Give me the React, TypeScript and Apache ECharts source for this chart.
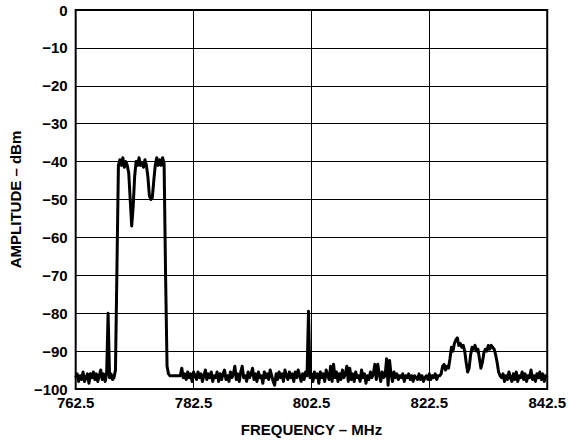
import React, { useEffect, useRef } from "react";
import * as echarts from "echarts";

// Frequency grid of the trace (MHz) — each segment starts at its own frequency, samples every 0.25 MHz
const STEP = 0.25;

// 762.5 … 768.75 MHz: noise floor with a narrow spur at 768 MHz
const noiseLowStart = 762.5;
const noiseLow = [
  -97, -96, -98, -96.5, -97.5, -95.5, -98, -97,
  -96, -98.5, -96, -97, -95.5, -97.5, -96, -98,
  -96.5, -95, -97.5, -96, -98, -96, -80, -97,
  -96, -97.5,
];

// 769.0 … 779.0 MHz: wide carrier block with two notches
const channelStart = 769.0;
const channel = [
  -97, -95, -68, -41, -39.5, -41, -39, -41.5,
  -40, -41, -43, -50, -57, -52, -44, -40,
  -41, -39, -41, -40.5, -41.5, -39.5, -41, -44,
  -49, -50, -49.5, -45, -41, -39, -41, -39.5,
  -41, -39, -40.5, -70, -94, -96, -96.5, -96.5,
  -96.5,
];

// 779.25 … 824.25 MHz: noise floor with a spur at 802 MHz
const noiseMidStart = 779.25;
const noiseMid = [
  -96.5, -96.5, -96.5, -96.5, -96.5, -94.5, -97, -96,
  -97.5, -95.5, -97, -96, -98, -95.5, -96.5, -97.5,
  -95.5, -97, -96, -98, -96.5, -95, -97.5, -96,
  -97, -95.5, -98, -96.5, -97, -95.5, -98, -96,
  -97.5, -96, -95, -97.5, -96.5, -98, -95.5, -97,
  -96, -94, -97.5, -96, -98, -95.5, -94, -97,
  -96.5, -98, -95.5, -97, -96, -94.5, -97.5, -96,
  -98, -95.5, -97, -96.5, -98.5, -95.5, -97, -96,
  -97.5, -95, -96.5, -98, -99, -96, -97.5, -95.5,
  -97, -96, -98, -95, -96.5, -97.5, -95.5, -97,
  -96, -98, -95.5, -97, -95, -96.5, -98, -96,
  -97.5, -95.5, -96.5, -79.5, -97, -96, -98, -95.5,
  -97, -96, -98.5, -95.5, -97, -96, -98, -95,
  -96.5, -97.5, -94, -98, -93.5, -97, -95.5, -98,
  -96, -97.5, -95, -97, -96, -94, -98, -94.5,
  -97.5, -96, -98, -95.5, -97, -96.5, -98, -95,
  -97, -96, -98.5, -96.5, -97.5, -95.5, -97, -96,
  -93.5, -97.5, -93.5, -96, -98, -95.5, -97, -96.5,
  -92, -99, -92.5, -96, -98, -95.5, -97, -96,
  -97.5, -96.5, -97, -96, -98, -96.5, -97, -96,
  -97.5, -96.5, -98, -96.5, -97, -97.5, -96, -97.5,
  -96.5, -98, -97, -96.5, -97.5, -96, -97.5, -96.5,
  -97, -96, -97.5, -96.5, -96.5,
];

// 824.5 … 834.5 MHz: weak signal hump
const humpStart = 824.5;
const hump = [
  -96, -94, -93.5, -95, -94, -94.5, -92, -89,
  -90, -88, -87, -86.5, -88.5, -88, -89, -88.5,
  -90, -93, -95.5, -94.5, -91, -89, -89.5, -88.5,
  -90, -89.5, -92, -94.5, -93, -90.5, -89.5, -90,
  -88.5, -89.5, -88.5, -89, -89.5, -91, -93, -95.5,
  -96.5,
];

// 834.75 … 842.5 MHz: noise floor
const noiseHighStart = 834.75;
const noiseHigh = [
  -97, -96, -98, -96.5, -97.5, -95.5, -97, -98,
  -96, -97.5, -95.5, -98, -96.5, -97, -95.5, -97.5,
  -96, -98, -96.5, -97, -95, -97.5, -96.5, -98,
  -96, -97, -95.5, -97.5, -96, -98, -96.5, -97,
];

const xTicks = [762.5, 782.5, 802.5, 822.5, 842.5];
const yMin = -100;
const yMax = 0;
const yStep = 10;
const xTitle = "FREQUENCY \u2013 MHz";
const yTitle = "AMPLITUDE \u2013 dBm";

const segments: [number, number[]][] = [
  [noiseLowStart, noiseLow],
  [channelStart, channel],
  [noiseMidStart, noiseMid],
  [humpStart, hump],
  [noiseHighStart, noiseHigh],
];

function buildTrace(): [number, number][] {
  const pts: [number, number][] = [];
  for (const [start, vals] of segments) {
    vals.forEach((v, i) => pts.push([start + i * STEP, v]));
  }
  return pts;
}

const FONT = '"Liberation Sans", Arial, Helvetica, sans-serif';

export default function App() {
  const ref = useRef<HTMLDivElement>(null);
  useEffect(() => {
    if (!ref.current) return;
    const chart = echarts.init(ref.current, undefined, { renderer: "svg" });
    const xMin = xTicks[0];
    const xMax = xTicks[xTicks.length - 1];
    chart.setOption({
      animation: false,
      backgroundColor: "#ffffff",
      grid: {
        left: 70,
        right: 19,
        top: 10,
        bottom: 49,
        show: true,
        borderColor: "#000",
        borderWidth: 2,
        backgroundColor: "transparent",
        z: 3,
      },
      xAxis: {
        type: "value",
        min: xMin,
        max: xMax,
        interval: xTicks[1] - xTicks[0],
        name: xTitle,
        nameLocation: "middle",
        nameGap: 33,
        nameTextStyle: { fontFamily: FONT, fontWeight: "bold", fontSize: 15, color: "#000" },
        axisLine: { show: false },
        axisTick: { show: false },
        axisLabel: {
          fontFamily: FONT,
          fontWeight: "bold",
          fontSize: 15,
          color: "#000",
          margin: 6,
          formatter: (v: number) => v.toFixed(1),
        },
        splitLine: { show: true, lineStyle: { color: "#000", width: 1 } },
      },
      yAxis: {
        type: "value",
        min: yMin,
        max: yMax,
        interval: yStep,
        name: yTitle,
        nameLocation: "middle",
        nameGap: 52,
        nameRotate: 90,
        nameTextStyle: { fontFamily: FONT, fontWeight: "bold", fontSize: 15, color: "#000" },
        axisLine: { show: false },
        axisTick: { show: false },
        axisLabel: {
          fontFamily: FONT,
          fontWeight: "bold",
          fontSize: 15,
          color: "#000",
          margin: 8,
          formatter: (v: number) => (v < 0 ? "\u2212" + Math.abs(v) : String(v)),
        },
        splitLine: { show: true, lineStyle: { color: "#000", width: 1 } },
      },
      series: [
        {
          type: "line",
          data: buildTrace(),
          showSymbol: false,
          symbol: "none",
          lineStyle: { color: "#000", width: 3, join: "round" },
          z: 2,
        },
      ],
    });
    return () => chart.dispose();
  }, []);
  return (
    <div
      ref={ref}
      style={{ position: "fixed", left: 0, top: 0, width: 569, height: 442, background: "#fff" }}
    />
  );
}
